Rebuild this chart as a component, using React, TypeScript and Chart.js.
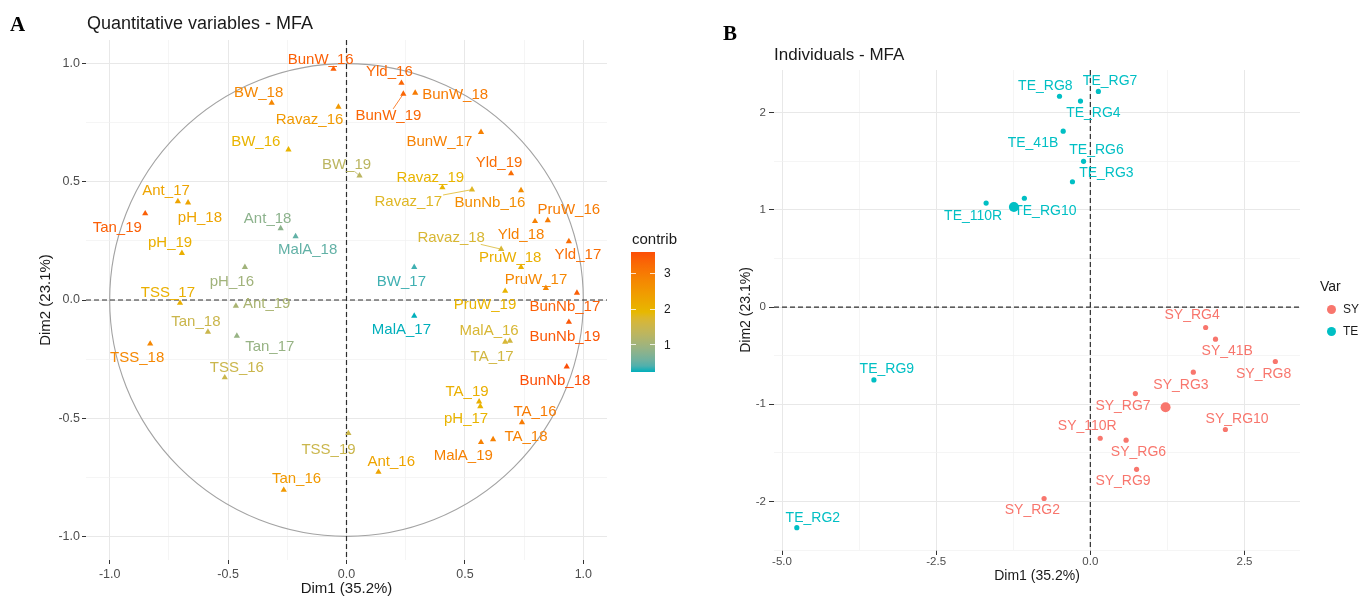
import React, { useEffect, useRef } from "react";
import { Chart, registerables } from "chart.js";

Chart.register(...registerables);

const FONT = "'Liberation Sans', Arial, Helvetica, sans-serif";
const SERIF = "'Liberation Serif', 'Times New Roman', serif";

// ---------------- Panel A: quantitative variables (MFA) ----------------
const varNames = ["BunW_16", "Yld_16", "BunW_19", "BunW_18", "BW_18", "Ravaz_16", "BW_16", "BW_19", "BunW_17", "Yld_19", "Ravaz_19", "Ravaz_17", "BunNb_16", "Yld_18", "PruW_16", "Yld_17", "Ravaz_18", "PruW_18", "PruW_17", "PruW_19", "BunNb_17", "BunNb_19", "MalA_17", "BW_17", "MalA_16", "TA_17", "BunNb_18", "TA_19", "pH_17", "TA_16", "TA_18", "MalA_19", "TSS_19", "Ant_16", "Tan_16", "TSS_18", "TSS_17", "Ant_19", "Tan_18", "Tan_17", "TSS_16", "pH_16", "Ant_18", "MalA_18", "pH_19", "Ant_17", "pH_18", "Tan_19"];
const varDim1 = [-0.055, 0.232, 0.24, 0.29, -0.316, -0.034, -0.245, 0.055, 0.568, 0.695, 0.405, 0.53, 0.737, 0.796, 0.85, 0.939, 0.653, 0.737, 0.842, 0.67, 0.973, 0.939, 0.286, 0.286, 0.67, 0.69, 0.93, 0.56, 0.565, 0.741, 0.619, 0.568, 0.008, 0.135, -0.265, -0.829, -0.703, -0.467, -0.585, -0.463, -0.514, -0.429, -0.278, -0.215, -0.695, -0.712, -0.669, -0.85];
const varDim2 = [0.977, 0.918, 0.872, 0.876, 0.834, 0.817, 0.636, 0.526, 0.71, 0.535, 0.476, 0.467, 0.464, 0.333, 0.337, 0.248, 0.215, 0.139, 0.05, 0.038, 0.03, -0.093, -0.067, 0.139, -0.177, -0.173, -0.282, -0.43, -0.45, -0.518, -0.59, -0.602, -0.564, -0.728, -0.804, -0.185, -0.013, -0.025, -0.135, -0.152, -0.328, 0.139, 0.303, 0.269, 0.198, 0.417, 0.412, 0.366];
const varContrib = [3.4, 3.3, 3.3, 3.0, 2.8, 2.5, 2.0, 1.3, 2.9, 3.2, 2.0, 1.8, 2.7, 2.9, 3.0, 3.2, 1.7, 2.1, 2.8, 2.0, 3.4, 3.5, 0.24, 0.35, 1.7, 1.6, 3.6, 2.1, 2.0, 3.0, 2.9, 2.9, 1.5, 2.3, 2.5, 2.8, 2.1, 1.1, 1.5, 0.9, 1.5, 1.0, 0.8, 0.5, 2.1, 2.3, 2.3, 3.4];
// where each repelled text label sits (in Dim1/Dim2 units)
const varLabelDim1 = [-0.109, 0.181, 0.177, 0.459, -0.371, -0.156, -0.383, 0.0, 0.392, 0.644, 0.354, 0.261, 0.606, 0.737, 0.939, 0.977, 0.442, 0.691, 0.8, 0.585, 0.922, 0.922, 0.232, 0.232, 0.602, 0.615, 0.88, 0.509, 0.505, 0.796, 0.758, 0.493, -0.076, 0.189, -0.211, -0.884, -0.754, -0.337, -0.636, -0.324, -0.463, -0.484, -0.333, -0.164, -0.745, -0.762, -0.619, -0.968];
const varLabelDim2 = [1.015, 0.964, 0.779, 0.867, 0.876, 0.762, 0.669, 0.573, 0.669, 0.581, 0.518, 0.417, 0.413, 0.274, 0.383, 0.189, 0.265, 0.177, 0.084, -0.021, -0.029, -0.156, -0.126, 0.076, -0.131, -0.24, -0.341, -0.387, -0.501, -0.472, -0.577, -0.661, -0.632, -0.686, -0.758, -0.244, 0.029, -0.017, -0.093, -0.198, -0.286, 0.076, 0.345, 0.211, 0.24, 0.463, 0.349, 0.307];
const varSegmentLabels = ["BunW_19", "Ravaz_17", "Ravaz_18", "BW_19"];
const contribRange = [0.24, 3.6];
const contribTicks = [1, 2, 3];
const gradientColours = ["#00AFBB", "#E7B800", "#FC4E07"];
const aMajorTicks = [-1, -0.5, 0, 0.5, 1];
const aMinorTicks = [-0.75, -0.25, 0.25, 0.75];

// ---------------- Panel B: individuals (MFA) ----------------
const groupNames = ["SY", "TE"];
const groupColours = ["#F8766D", "#00BFC4"];
const syNames = ["SY_RG4", "SY_41B", "SY_RG8", "SY_RG3", "SY_RG7", "SY_RG10", "SY_110R", "SY_RG6", "SY_RG9", "SY_RG2"];
const syDim1 = [1.87, 2.03, 3.0, 1.67, 0.73, 2.19, 0.16, 0.58, 0.75, -0.75];
const syDim2 = [-0.21, -0.33, -0.56, -0.67, -0.89, -1.26, -1.35, -1.37, -1.67, -1.97];
const syLabelDim1 = [1.65, 2.22, 2.81, 1.47, 0.53, 2.38, -0.05, 0.78, 0.53, -0.94];
const syLabelDim2 = [-0.08, -0.45, -0.69, -0.8, -1.02, -1.15, -1.23, -1.49, -1.79, -2.09];
const teNames = ["TE_RG8", "TE_RG4", "TE_RG7", "TE_41B", "TE_RG6", "TE_RG3", "TE_RG10", "TE_110R", "TE_RG9", "TE_RG2"];
const teDim1 = [-0.5, -0.16, 0.13, -0.44, -0.11, -0.29, -1.07, -1.69, -3.51, -4.76];
const teDim2 = [2.17, 2.12, 2.22, 1.81, 1.5, 1.29, 1.12, 1.07, -0.75, -2.27];
const teLabelDim1 = [-0.73, 0.05, 0.32, -0.93, 0.1, 0.26, -0.73, -1.9, -3.3, -4.5];
const teLabelDim2 = [2.27, 2.0, 2.33, 1.69, 1.62, 1.38, 0.99, 0.94, -0.64, -2.17];
const groupCentroidDim1 = [1.22, -1.24];
const groupCentroidDim2 = [-1.03, 1.03];
const bXMajorTicks = [-5, -2.5, 0, 2.5];
const bXMinorTicks = [-3.75, -1.25, 1.25];
const bYMajorTicks = [-2, -1, 0, 1, 2];
const bYMinorTicks = [-2.5, -1.5, -0.5, 0.5, 1.5];

// ---------------- colour helpers (Lab interpolation like ggplot) ----------------
function toLinear(c: number) {
  c /= 255;
  return c <= 0.04045 ? c / 12.92 : Math.pow((c + 0.055) / 1.055, 2.4);
}
function fromLinear(c: number) {
  const v = c <= 0.0031308 ? 12.92 * c : 1.055 * Math.pow(c, 1 / 2.4) - 0.055;
  return Math.round(Math.max(0, Math.min(1, v)) * 255);
}
function hexToLab(hex: string) {
  const r = toLinear(parseInt(hex.slice(1, 3), 16));
  const g = toLinear(parseInt(hex.slice(3, 5), 16));
  const b = toLinear(parseInt(hex.slice(5, 7), 16));
  const X = (0.4124 * r + 0.3576 * g + 0.1805 * b) / 0.95047;
  const Y = 0.2126 * r + 0.7152 * g + 0.0722 * b;
  const Z = (0.0193 * r + 0.1192 * g + 0.9505 * b) / 1.08883;
  const f = (t: number) => (t > 0.008856 ? Math.cbrt(t) : 7.787 * t + 16 / 116);
  const fx = f(X), fy = f(Y), fz = f(Z);
  return [116 * fy - 16, 500 * (fx - fy), 200 * (fy - fz)];
}
function labToHex(L: number, a: number, bb: number) {
  const fy = (L + 16) / 116;
  const fx = fy + a / 500;
  const fz = fy - bb / 200;
  const inv = (t: number) => (t * t * t > 0.008856 ? t * t * t : (t - 16 / 116) / 7.787);
  const X = 0.95047 * inv(fx), Y = inv(fy), Z = 1.08883 * inv(fz);
  const r = 3.2406 * X - 1.5372 * Y - 0.4986 * Z;
  const g = -0.9689 * X + 1.8758 * Y + 0.0415 * Z;
  const b = 0.0557 * X - 0.204 * Y + 1.057 * Z;
  return `rgb(${fromLinear(r)},${fromLinear(g)},${fromLinear(b)})`;
}
const gradientLab = gradientColours.map(hexToLab);
function contribColour(v: number) {
  let t = (v - contribRange[0]) / (contribRange[1] - contribRange[0]);
  t = Math.max(0, Math.min(1, t));
  const seg = Math.min(gradientLab.length - 2, Math.floor(t * (gradientLab.length - 1)));
  const lt = t * (gradientLab.length - 1) - seg;
  const A = gradientLab[seg], B = gradientLab[seg + 1];
  return labToHex(A[0] + (B[0] - A[0]) * lt, A[1] + (B[1] - A[1]) * lt, A[2] + (B[2] - A[2]) * lt);
}

// ---------------- chart helpers ----------------
type AxisOpts = {
  min: number; max: number; major: number[]; minor: number[];
  fmt: (v: number) => string; size: number; horizontal: boolean;
  title: string; titleSize: number; titlePadding: any;
  tickSize: number; tickLength: number; tickPadding: number;
};
function isIn(list: number[], v: number) {
  return list.some((m) => Math.abs(m - v) < 1e-9);
}
function axis(o: AxisOpts) {
  return {
    type: "linear",
    min: o.min,
    max: o.max,
    afterBuildTicks: (s: any) => {
      s.ticks = [...o.major, ...o.minor].sort((p, q) => p - q).map((v) => ({ value: v }));
    },
    afterFit: (s: any) => {
      if (o.horizontal) s.height = o.size;
      else s.width = o.size;
    },
    grid: {
      drawTicks: true,
      tickLength: o.tickLength,
      color: (c: any) => (c.tick && isIn(o.major, c.tick.value) ? "#E8E8E8" : "#F1F1F1"),
      lineWidth: (c: any) => (c.tick && isIn(o.major, c.tick.value) ? 1 : 0.7),
      tickColor: (c: any) => (c.tick && isIn(o.major, c.tick.value) ? "#333333" : "rgba(0,0,0,0)"),
      tickWidth: 1,
    },
    border: { display: false },
    ticks: {
      autoSkip: false,
      maxRotation: 0,
      minRotation: 0,
      padding: o.tickPadding,
      color: "#4D4D4D",
      font: { family: FONT, size: o.tickSize },
      callback: (v: any) => (isIn(o.major, Number(v)) ? o.fmt(Number(v)) : ""),
    },
    title: {
      display: true,
      text: o.title,
      color: "#1A1A1A",
      font: { family: FONT, size: o.titleSize },
      padding: o.titlePadding,
    },
  };
}

function refLinesPlugin(withCircle: boolean) {
  return {
    id: "refLines",
    beforeDatasetsDraw(chart: any) {
      const { ctx, chartArea: ca, scales } = chart;
      const x = scales.x, y = scales.y;
      const x0 = x.getPixelForValue(0), y0 = y.getPixelForValue(0);
      ctx.save();
      if (withCircle) {
        ctx.beginPath();
        ctx.ellipse(x0, y0, Math.abs(x.getPixelForValue(1) - x0), Math.abs(y.getPixelForValue(1) - y0), 0, 0, Math.PI * 2);
        ctx.strokeStyle = "#A3A3A3";
        ctx.lineWidth = 1.1;
        ctx.stroke();
      }
      ctx.setLineDash([5, 3]);
      ctx.strokeStyle = "#2E2E2E";
      ctx.lineWidth = 1.2;
      ctx.beginPath();
      ctx.moveTo(ca.left, y0);
      ctx.lineTo(ca.right, y0);
      ctx.moveTo(x0, ca.top);
      ctx.lineTo(x0, ca.bottom);
      ctx.stroke();
      ctx.restore();
    },
  };
}

type LabelItem = { text: string; x: number; y: number; lx: number; ly: number; colour: string; segment: boolean };
function labelPlugin(items: LabelItem[], font: string) {
  return {
    id: "pointLabels",
    afterDatasetsDraw(chart: any) {
      const { ctx, scales } = chart;
      ctx.save();
      ctx.font = font;
      ctx.textAlign = "center";
      ctx.textBaseline = "middle";
      for (const it of items) {
        const px = scales.x.getPixelForValue(it.x);
        const py = scales.y.getPixelForValue(it.y);
        const lx = scales.x.getPixelForValue(it.lx);
        const ly = scales.y.getPixelForValue(it.ly);
        ctx.fillStyle = it.colour;
        ctx.fillText(it.text, lx, ly);
        if (it.segment) {
          const w = ctx.measureText(it.text).width / 2 + 1;
          const h = 7;
          const dx = px - lx, dy = py - ly;
          const t = Math.min(Math.abs(dx) > 0 ? w / Math.abs(dx) : Infinity, Math.abs(dy) > 0 ? h / Math.abs(dy) : Infinity);
          if (t < 1) {
            ctx.beginPath();
            ctx.moveTo(lx + dx * t, ly + dy * t);
            ctx.lineTo(px, py);
            ctx.strokeStyle = it.colour;
            ctx.lineWidth = 0.8;
            ctx.stroke();
          }
        }
      }
      ctx.restore();
    },
  };
}

function makeChartA(canvas: HTMLCanvasElement) {
  const colours = varContrib.map(contribColour);
  const items: LabelItem[] = varNames.map((n, i) => ({
    text: n, x: varDim1[i], y: varDim2[i], lx: varLabelDim1[i], ly: varLabelDim2[i],
    colour: colours[i], segment: varSegmentLabels.includes(n),
  }));
  return new Chart(canvas, {
    type: "scatter",
    data: {
      datasets: [
        {
          data: varDim1.map((x, i) => ({ x, y: varDim2[i] })),
          pointStyle: "triangle",
          pointRadius: 3.6,
          pointBackgroundColor: colours,
          pointBorderColor: colours,
          pointBorderWidth: 0,
          showLine: false,
        } as any,
      ],
    },
    options: {
      animation: false,
      responsive: false,
      maintainAspectRatio: false,
      devicePixelRatio: 1,
      layout: { padding: { left: 0, right: 93, top: 40, bottom: 0 } },
      plugins: { legend: { display: false }, tooltip: { enabled: false } },
      scales: {
        x: axis({
          min: -1.1, max: 1.1, major: aMajorTicks, minor: aMinorTicks, fmt: (v) => v.toFixed(1),
          size: 38, horizontal: true, title: "Dim1 (35.2%)", titleSize: 15, titlePadding: { top: 0, bottom: 0 },
          tickSize: 12.5, tickLength: 4, tickPadding: 3,
        }),
        y: axis({
          min: -1.1, max: 1.1, major: aMajorTicks, minor: aMinorTicks, fmt: (v) => v.toFixed(1),
          size: 86, horizontal: false, title: "Dim2 (23.1%)", titleSize: 15, titlePadding: { top: 37, bottom: 0 },
          tickSize: 12.5, tickLength: 4, tickPadding: 2,
        }),
      } as any,
    },
    plugins: [refLinesPlugin(true), labelPlugin(items, `15px ${FONT}`)],
  });
}

function makeChartB(canvas: HTMLCanvasElement) {
  const items: LabelItem[] = [
    ...syNames.map((n, i) => ({ text: n, x: syDim1[i], y: syDim2[i], lx: syLabelDim1[i], ly: syLabelDim2[i], colour: groupColours[0], segment: false })),
    ...teNames.map((n, i) => ({ text: n, x: teDim1[i], y: teDim2[i], lx: teLabelDim1[i], ly: teLabelDim2[i], colour: groupColours[1], segment: false })),
  ];
  return new Chart(canvas, {
    type: "scatter",
    data: {
      datasets: [
        {
          label: groupNames[0],
          data: syDim1.map((x, i) => ({ x, y: syDim2[i] })),
          pointRadius: 2.6,
          pointBackgroundColor: groupColours[0],
          pointBorderWidth: 0,
          showLine: false,
        } as any,
        {
          label: groupNames[1],
          data: teDim1.map((x, i) => ({ x, y: teDim2[i] })),
          pointRadius: 2.6,
          pointBackgroundColor: groupColours[1],
          pointBorderWidth: 0,
          showLine: false,
        } as any,
        {
          label: "centroids",
          data: groupCentroidDim1.map((x, i) => ({ x, y: groupCentroidDim2[i] })),
          pointRadius: 5,
          pointBackgroundColor: groupColours,
          pointBorderWidth: 0,
          showLine: false,
        } as any,
      ],
    },
    options: {
      animation: false,
      responsive: false,
      maintainAspectRatio: false,
      devicePixelRatio: 1,
      layout: { padding: { left: 0, right: 65, top: 70, bottom: 0 } },
      plugins: { legend: { display: false }, tooltip: { enabled: false } },
      scales: {
        x: axis({
          min: -5.13, max: 3.4, major: bXMajorTicks, minor: bXMinorTicks, fmt: (v) => v.toFixed(1),
          size: 48, horizontal: true, title: "Dim1 (35.2%)", titleSize: 14, titlePadding: { top: 0, bottom: 13 },
          tickSize: 11.5, tickLength: 5, tickPadding: 0,
        }),
        y: axis({
          min: -2.5, max: 2.44, major: bYMajorTicks, minor: bYMinorTicks, fmt: (v) => String(v),
          size: 74, horizontal: false, title: "Dim2 (23.1%)", titleSize: 14, titlePadding: { top: 38, bottom: 0 },
          tickSize: 11.5, tickLength: 5, tickPadding: 3,
        }),
      } as any,
    },
    plugins: [refLinesPlugin(false), labelPlugin(items, `14px ${FONT}`)],
  });
}

function ContribLegend() {
  const barTop = 252, barHeight = 120, barLeft = 631, barWidth = 24;
  const stops = Array.from({ length: 21 }, (_, i) => {
    const v = contribRange[0] + ((contribRange[1] - contribRange[0]) * i) / 20;
    return `${contribColour(v)} ${i * 5}%`;
  }).join(", ");
  const posOf = (v: number) => barTop + ((contribRange[1] - v) / (contribRange[1] - contribRange[0])) * barHeight;
  return (
    <>
      <div style={{ position: "absolute", left: 632, top: 231, fontSize: 15, lineHeight: "15px", color: "#1A1A1A", fontFamily: FONT }}>contrib</div>
      <div style={{ position: "absolute", left: barLeft, top: barTop, width: barWidth, height: barHeight, background: `linear-gradient(to top, ${stops})` }} />
      {contribTicks.map((t) => (
        <React.Fragment key={t}>
          <div style={{ position: "absolute", left: barLeft, top: posOf(t) - 0.5, width: 5, height: 1, background: "rgba(255,255,255,0.8)" }} />
          <div style={{ position: "absolute", left: barLeft + barWidth - 5, top: posOf(t) - 0.5, width: 5, height: 1, background: "rgba(255,255,255,0.8)" }} />
          <div style={{ position: "absolute", left: 664, top: posOf(t) - 6, fontSize: 12, lineHeight: "12px", color: "#1A1A1A", fontFamily: FONT }}>{t}</div>
        </React.Fragment>
      ))}
    </>
  );
}

function VarLegend() {
  return (
    <>
      <div style={{ position: "absolute", left: 1320, top: 279, fontSize: 14, lineHeight: "14px", color: "#1A1A1A", fontFamily: FONT }}>Var</div>
      {groupNames.map((g, i) => (
        <React.Fragment key={g}>
          <div style={{ position: "absolute", left: 1331 - 4.5, top: 309 + i * 22 - 4.5, width: 9, height: 9, borderRadius: "50%", background: groupColours[i] }} />
          <div style={{ position: "absolute", left: 1343, top: 303 + i * 22, fontSize: 12, lineHeight: "12px", color: "#1A1A1A", fontFamily: FONT }}>{g}</div>
        </React.Fragment>
      ))}
    </>
  );
}

export default function App() {
  const refA = useRef<HTMLCanvasElement>(null);
  const refB = useRef<HTMLCanvasElement>(null);
  useEffect(() => {
    const a = makeChartA(refA.current as HTMLCanvasElement);
    const b = makeChartB(refB.current as HTMLCanvasElement);
    return () => {
      a.destroy();
      b.destroy();
    };
  }, []);
  return (
    <div style={{ position: "fixed", left: 0, top: 0, width: 1365, height: 598, background: "#ffffff", overflow: "hidden", fontFamily: FONT }}>
      <canvas ref={refA} width={700} height={598} style={{ position: "absolute", left: 0, top: 0, width: 700, height: 598 }} />
      <canvas ref={refB} width={665} height={598} style={{ position: "absolute", left: 700, top: 0, width: 665, height: 598 }} />
      <div style={{ position: "absolute", left: 10, top: 14, fontFamily: SERIF, fontWeight: "bold", fontSize: 21, lineHeight: "21px", color: "#000" }}>A</div>
      <div style={{ position: "absolute", left: 723, top: 23, fontFamily: SERIF, fontWeight: "bold", fontSize: 21, lineHeight: "21px", color: "#000" }}>B</div>
      <div style={{ position: "absolute", left: 87, top: 14, fontSize: 18, lineHeight: "18px", color: "#1A1A1A" }}>Quantitative variables - MFA</div>
      <div style={{ position: "absolute", left: 774, top: 46, fontSize: 17, lineHeight: "17px", color: "#1A1A1A" }}>Individuals - MFA</div>
      <ContribLegend />
      <VarLegend />
    </div>
  );
}
